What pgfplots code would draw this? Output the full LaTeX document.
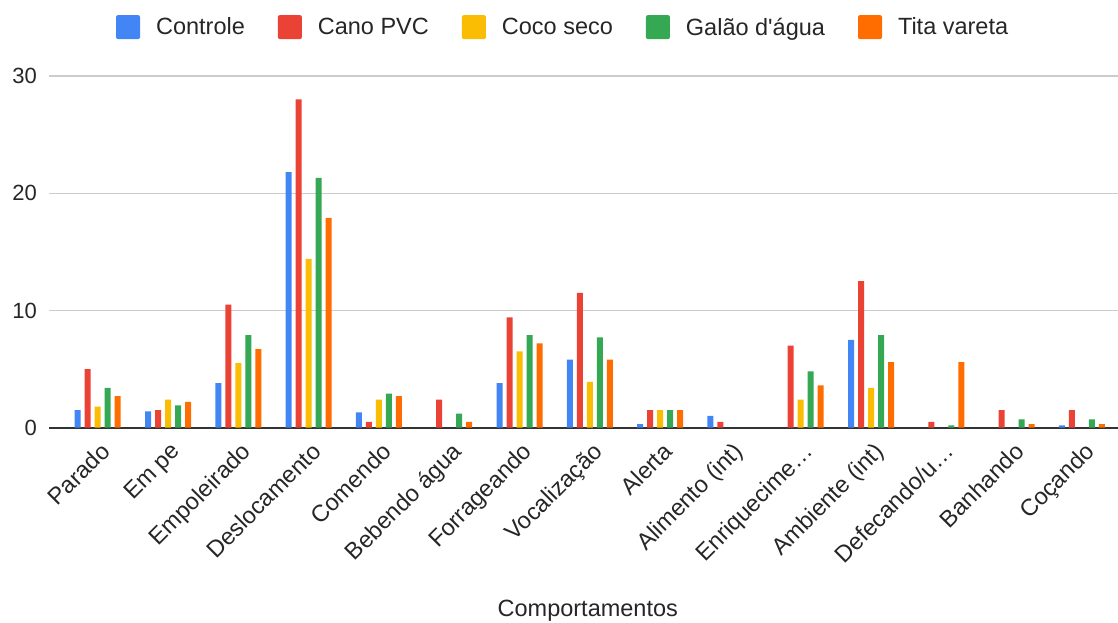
\documentclass[border=0pt]{standalone}
\usepackage{fontspec}
\setmainfont{Liberation Sans}
\newfontfamily\rawfont{Liberation Sans}
\usepackage{pgfplots}
\pgfplotsset{compat=1.18}

\definecolor{gblue}{HTML}{4285F4}
\definecolor{gred}{HTML}{EA4335}
\definecolor{gyellow}{HTML}{FBBC04}
\definecolor{ggreen}{HTML}{34A853}
\definecolor{gorange}{HTML}{FF6D01}
\definecolor{gridgray}{HTML}{CCCCCC}
\definecolor{axisdark}{HTML}{333333}

\begin{document}
\begin{tikzpicture}[font=\fontsize{22}{26}\selectfont]
\useasboundingbox (0,0) rectangle (1118pt,623pt);
\begin{axis}[
    at={(49pt,195.3pt)}, anchor=south west,
    scale only axis,
    width=1069pt, height=351.7pt,
    ybar=4pt, bar width=6pt,
    xmin=-0.693, xmax=14.513,
    ymin=0, ymax=30,
    ytick={0,10,20,30},
    xtick={0,...,14},
    xticklabels={Parado, Em pe, Empoleirado, Deslocamento, Comendo, Bebendo água,
        Forrageando, Vocalização, Alerta, Alimento (int), Enriquecime…,
        Ambiente (int), Defecando/u…, Banhando, Coçando},
    axis x line=bottom, axis y line=left,
    x axis line style={draw=axisdark, line width=2pt, -},
    y axis line style={draw=none},
    major tick length=0pt,
    ymajorgrids, grid style={draw=gridgray, line width=1.2pt},
    /pgf/number format/assume math mode=true,
    yticklabel style={anchor=east, inner sep=0pt, xshift=-12pt, text=black!85},
    xticklabel style={rotate=45, anchor=north east, inner sep=0pt,
        xshift=-8.2pt, yshift=-10.5pt, text=black!85,
        font=\fontsize{23.5}{28}\selectfont},
    xlabel={Comportamentos},
    xlabel style={at={(axis description cs:0.504,-0.521)}, anchor=center,
        font=\fontsize{23.5}{28}\selectfont, text=black!85},
    legend columns=-1,
    legend style={at={(axis description cs:0.48,1.139)}, anchor=center,
        draw=none, fill=none, font=\fontsize{23.5}{28}\selectfont,
        nodes={inner sep=0pt, text=black!85},
        /tikz/every odd column/.append style={column sep=16pt},
        /tikz/every even column/.append style={column sep=33pt}},
    legend image code/.code={\fill[#1, rounded corners=2pt] (0pt,-12pt) rectangle (24pt,12pt);},
]
\addplot[fill=gblue, draw=none] coordinates {
    (0,1.5) (1,1.4) (2,3.8) (3,21.8) (4,1.3) (6,3.8) (7,5.8) (8,0.3)
    (9,1.0) (11,7.5) (14,0.2)};
\addplot[fill=gred, draw=none] coordinates {
    (0,5.0) (1,1.5) (2,10.5) (3,28.0) (4,0.5) (5,2.4) (6,9.4) (7,11.5)
    (8,1.5) (9,0.5) (10,7.0) (11,12.5) (12,0.5) (13,1.5) (14,1.5)};
\addplot[fill=gyellow, draw=none] coordinates {
    (0,1.8) (1,2.4) (2,5.5) (3,14.4) (4,2.4) (6,6.5) (7,3.9) (8,1.5)
    (10,2.4) (11,3.4)};
\addplot[fill=ggreen, draw=none] coordinates {
    (0,3.4) (1,1.9) (2,7.9) (3,21.3) (4,2.9) (5,1.2) (6,7.9) (7,7.7)
    (8,1.5) (10,4.8) (11,7.9) (12,0.2) (13,0.7) (14,0.7)};
\addplot[fill=gorange, draw=none] coordinates {
    (0,2.7) (1,2.2) (2,6.7) (3,17.9) (4,2.7) (5,0.5) (6,7.2) (7,5.8)
    (8,1.5) (10,3.6) (11,5.6) (12,5.6) (13,0.3) (14,0.3)};
\legend{Controle, Cano PVC, Coco seco, Galão d{\rawfont '}água, Tita vareta}
\end{axis}
\end{tikzpicture}
\end{document}
